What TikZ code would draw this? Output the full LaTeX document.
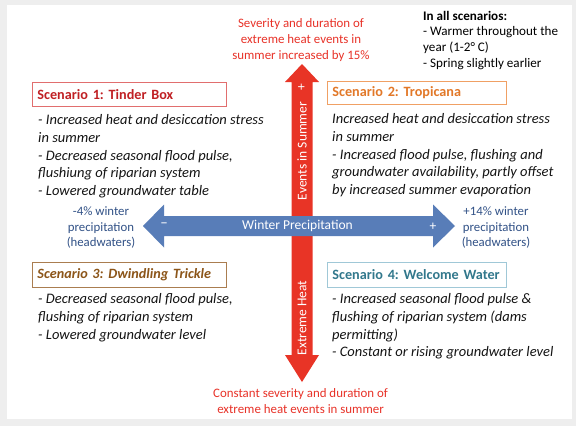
\documentclass[tikz,border=0pt]{standalone}
\usepackage{fontspec}
\setmainfont{Carlito}
\frenchspacing
\definecolor{bggray}{RGB}{238,238,238}
\definecolor{redarrow}{RGB}{232,52,38}
\definecolor{bluearrow}{RGB}{88,125,184}
\definecolor{redtext}{RGB}{232,50,40}
\definecolor{bluetext}{RGB}{50,82,135}
\definecolor{sone}{RGB}{192,32,36}
\definecolor{soneb}{RGB}{225,110,110}
\definecolor{stwo}{RGB}{226,120,40}
\definecolor{stwob}{RGB}{240,160,100}
\definecolor{sthree}{RGB}{140,85,25}
\definecolor{sthreeb}{RGB}{170,125,80}
\definecolor{sfour}{RGB}{50,120,140}
\definecolor{sfourb}{RGB}{160,200,215}
\definecolor{bodytext}{RGB}{20,20,20}
\begin{document}
\begin{tikzpicture}[x=1pt,y=-1pt,
  titlebox/.style={draw, line width=0.9pt, fill=white, anchor=north west, inner xsep=5pt, inner ysep=0pt,
    align=left, font=\fontsize{14.2}{16}\selectfont\bfseries},
  bodytxt/.style={anchor=north west, inner sep=0pt, align=left, text=bodytext,
    font=\fontsize{14.5}{17.7}\selectfont\itshape},
  redlbl/.style={anchor=north, inner sep=0pt, align=center, text=redtext,
    font=\fontsize{12.9}{16}\selectfont},
  bluelbl/.style={anchor=north, inner sep=0pt, align=center, text=bluetext,
    font=\fontsize{12.8}{15.5}\selectfont},
  arrowtxt/.style={inner sep=0pt, text=white, font=\fontsize{13.5}{16}\selectfont}
]
\useasboundingbox (0,0) rectangle (576,426);
\fill[bggray] (0,0) rectangle (576,426);
\fill[white] (7,5) rectangle (572,419);

% red vertical arrow
\fill[redarrow] (302,64) -- (319,82) -- (312.5,82) -- (312.5,355) -- (319,355) -- (302,382)
  -- (285,355) -- (291.5,355) -- (291.5,82) -- (285,82) -- cycle;
% blue horizontal arrow
\fill[bluearrow] (143,226) -- (164,204.5) -- (164,216) -- (433,216) -- (433,204.5) -- (455,226)
  -- (433,247.5) -- (433,236) -- (164,236) -- (164,247.5) -- cycle;

\node[arrowtxt, rotate=90] (evt) at (302,151) {Events in Summer};
\node[arrowtxt, rotate=90] (evplus) at (302,87) {+};
\node[arrowtxt, rotate=90] (exh) at (302,318) {Extreme Heat};
\node[arrowtxt] (wp) at (297.5,226) {Winter Precipitation};
\node[arrowtxt, font=\fontsize{15}{16}\selectfont] (wminus) at (164,225.5) {–};
\node[arrowtxt] (wplus) at (433,226.5) {+};

% top labels
\node[redlbl] (toplbl) at (301,18) {Severity and duration of\\extreme heat events in\\summer increased by 15\%};
\node[anchor=north west, inner sep=0pt, align=left, text=black,
  font=\fontsize{13.1}{15.6}\selectfont] (allsc) at (423,11) {\textbf{In all scenarios:}\\- Warmer throughout the\\year (1-2° C)\\- Spring slightly earlier};

% side labels
\node[bluelbl] (leftlbl) at (101,206.5) {-4\% winter\\precipitation\\(headwaters)};
\node[bluelbl] (rightlbl) at (496,206.5) {+14\% winter\\precipitation\\(headwaters)};

% bottom label
\node[redlbl] (botlbl) at (300.5,388.5) {Constant severity and duration of\\extreme heat events in summer};

% scenario boxes
\node[titlebox, draw=soneb, text=sone, minimum width=194pt, minimum height=24pt, text width=184pt] (s1) at (32,82) {Scenario 1: Tinder Box};
\node[titlebox, draw=stwob, text=stwo, minimum width=179pt, minimum height=23pt, text width=169pt] (s2) at (327,81) {Scenario 2: Tropicana};
\node[titlebox, draw=sthreeb, text=sthree, minimum width=194pt, minimum height=25pt, text width=184pt, font=\fontsize{14.2}{16}\selectfont\bfseries\itshape] (s3) at (32,262) {Scenario 3: Dwindling Trickle};
\node[titlebox, draw=sfourb, text=sfour, minimum width=179pt, minimum height=25pt, text width=169pt] (s4) at (327,262) {Scenario 4: Welcome Water};

% body texts
\node[bodytxt] (b1) at (38,114.5) {- Increased heat and desiccation stress\\in summer\\- Decreased seasonal flood pulse,\\flushiung of riparian system\\- Lowered groundwater table};
\node[bodytxt] (b2) at (332,113.5) {Increased heat and desiccation stress\\in summer\\- Increased flood pulse, flushing and\\groundwater availability, partly offset\\by increased summer evaporation};
\node[bodytxt] (b3) at (38,293.5) {- Decreased seasonal flood pulse,\\flushing of riparian system\\- Lowered groundwater level};
\node[bodytxt] (b4) at (332,293.5) {- Increased seasonal flood pulse \&\\flushing of riparian system (dams\\permitting)\\- Constant or rising groundwater level};
\end{tikzpicture}
\end{document}
